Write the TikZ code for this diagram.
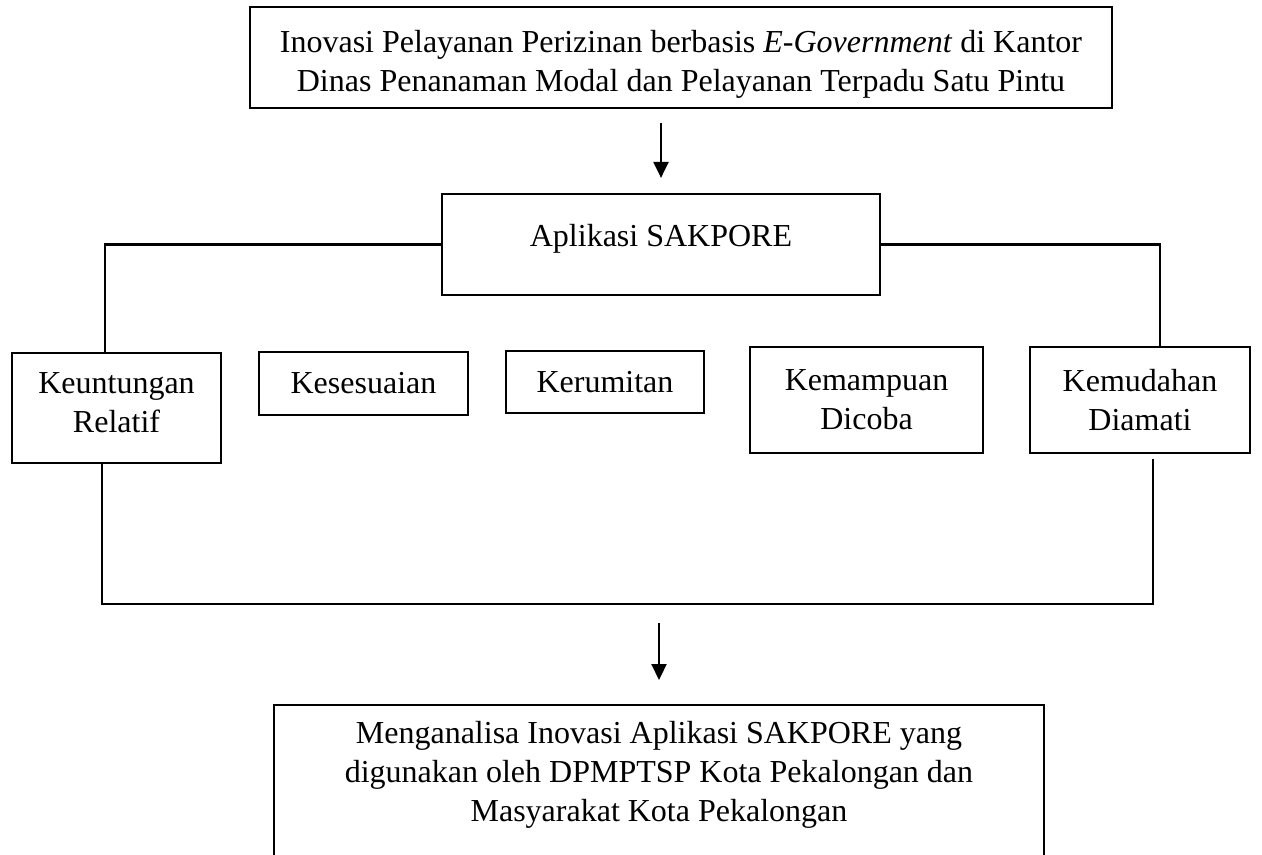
\documentclass[tikz,border=0pt]{standalone}
\usepackage{fontspec}
\setmainfont{Liberation Serif}
\usepackage{tikz}
\usetikzlibrary{arrows.meta}

\begin{document}
\begin{tikzpicture}[x=0.5pt, y=-0.5pt, line width=1.1pt,
    every node/.style = {shape=rectangle, draw, align=center, inner sep=2pt,
    font=\fontsize{16}{19.5}\selectfont},
    tip/.style = {-{Triangle[length=8pt,width=7.5pt]}}]
	\useasboundingbox (0,0) rectangle (1262,855);
	\clip (0,0) rectangle (1262,855);
	% boxes
	\node (top) at (681,57.5) [minimum width=431pt, minimum height=50.5pt]
		{\rule{0pt}{18pt}Inovasi Pelayanan Perizinan berbasis \textit{E-Government} di Kantor\\
		 Dinas Penanaman Modal dan Pelayanan Terpadu Satu Pintu};
	\node (app) at (661,244.5) [minimum width=219pt, minimum height=50.5pt,
		text height=9pt, text depth=7pt] {Aplikasi SAKPORE};
	\node (keu) at (116.5,408) [minimum width=104.5pt, minimum height=55pt]
		{Keuntungan\\ Relatif\rule[-5pt]{0pt}{0pt}};
	\node (kes) at (363.5,383.5) [minimum width=104.5pt, minimum height=31.5pt] {Kesesuaian};
	\node (ker) at (605,382) [minimum width=99pt, minimum height=31pt] {Kerumitan};
	\node (kmp) at (866.5,400) [minimum width=116.5pt, minimum height=53pt] {Kemampuan\\ Dicoba};
	\node (kmd) at (1140,400) [minimum width=110pt, minimum height=53pt] {Kemudahan\\ Diamati};
	\node (res) at (659,704) [anchor=north, text width=381pt, align=flush center, inner ysep=8pt]
		{Menganalisa Inovasi Aplikasi SAKPORE yang\\
		 digunakan oleh DPMPTSP Kota Pekalongan dan\\
		 Masyarakat Kota Pekalongan\\[60pt]\mbox{}};
	% connectors
	\coordinate (lowL) at (102,604);
	\coordinate (lowR) at (1153,604);
	\draw[tip] ([yshift=-7pt]top.south -| app.north) -- ([yshift=7.5pt]app.north);
	\draw (app.west) -| ([xshift=-5.75pt]keu.north);
	\draw (app.east) -| ([xshift=10pt]kmd.north);
	\draw (keu.south -| lowL) -- (lowL) -- (lowR) -- ([yshift=-2.5pt]kmd.south -| lowR);
	\draw[tip] ([yshift=-9.5pt]lowL -| res.north) -- ([yshift=12pt]res.north);
\end{tikzpicture}
\end{document}
